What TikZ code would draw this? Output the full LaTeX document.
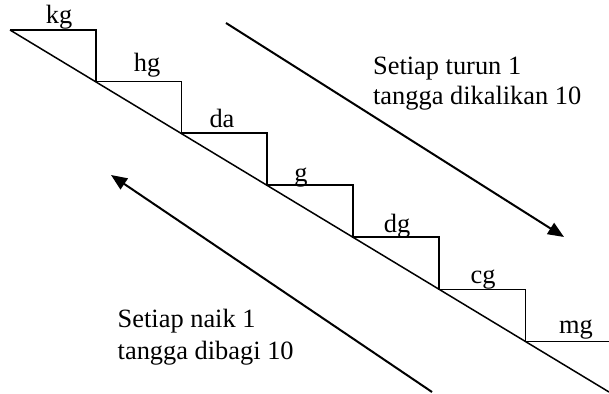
\documentclass[tikz,border=0pt]{standalone}
\usepackage{fontspec}
\setmainfont{Liberation Serif}
\usetikzlibrary{arrows.meta}
\begin{document}
\begin{tikzpicture}[x=0.5pt,y=-0.5pt,
  stair/.style={line width=0.75pt, line join=miter},
  bigarrow/.style={line width=1pt, -{Triangle[length=8pt,width=6.5pt]}},
  unitlbl/.style={anchor=base, inner sep=0pt, font=\fontsize{13.2}{15}\selectfont},
  txt/.style={anchor=base west, inner sep=0pt, font=\fontsize{13.2}{15}\selectfont}]
\useasboundingbox (0,0) rectangle (609,394);
% stair corners
\coordinate (s0) at (10,30);
\coordinate (s1) at (96,30);
\coordinate (b1) at (96,81.5);
\coordinate (s2) at (181.5,81.5);
\coordinate (b2) at (181.5,133);
\coordinate (s3) at (267,133);
\coordinate (b3) at (267,185);
\coordinate (s4) at (353,185);
\coordinate (b4) at (353,237);
\coordinate (s5) at (439,237);
\coordinate (b5) at (439,289.5);
\coordinate (s6) at (525.5,289.5);
\coordinate (b6) at (525.5,341.5);
\coordinate (s7) at (609,341.5);
\coordinate (e) at (609,392);
\draw[stair] (s0) -- (s1) -- (b1) -- (s2) -- (b2) -- (s3) -- (b3) -- (s4) -- (b4) -- (s5) -- (b5) -- (s6) -- (b6) -- (s7);
\draw[stair] (s0) -- (e);
% unit labels
\node[unitlbl] (kg) at (59,24) {kg};
\node[unitlbl] (hg) at (147,72) {hg};
\node[unitlbl] (da) at (222,128) {da};
\node[unitlbl] (g)  at (301,181.5) {g};
\node[unitlbl] (dg) at (397,233) {dg};
\node[unitlbl] (cg) at (483,284) {cg};
\node[unitlbl] (mg) at (576,334) {mg};
% arrows
\coordinate (d1) at (226,23);
\coordinate (d2) at (564,237);
\draw[bigarrow] (d1) -- (d2);
\coordinate (u1) at (432,392);
\coordinate (u2) at (111,175);
\draw[bigarrow] (u1) -- (u2);
% texts
\node[txt] (t1) at (372.7,75) {Setiap turun 1};
\node[txt] (t2) at (372.7,105) {tangga dikalikan 10};
\node[txt] (t3) at (117.3,328) {Setiap naik 1};
\node[txt] (t4) at (117.3,360) {tangga dibagi 10};
\end{tikzpicture}
\end{document}
